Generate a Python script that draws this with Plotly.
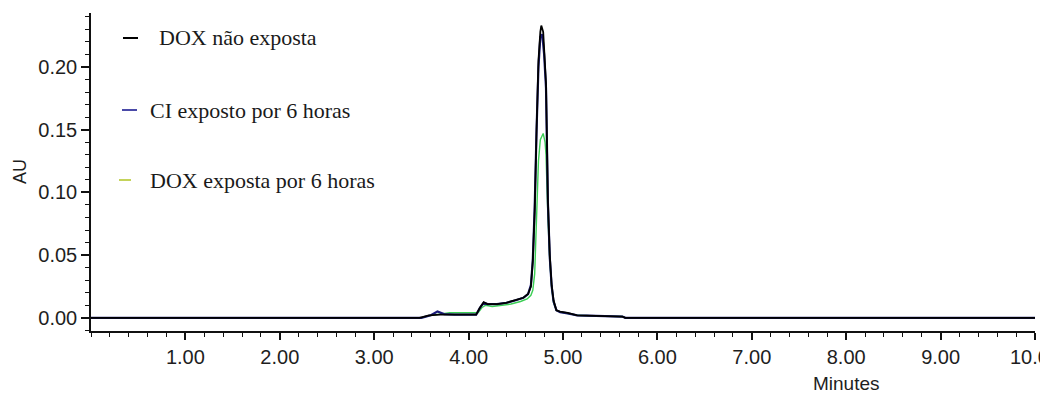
import plotly.graph_objects as go

# Chromatogram series (time in minutes, absorbance in AU)
series_names = ["DOX não exposta", "CI exposto por 6 horas", "DOX exposta por 6 horas"]
line_colors = ["#000000", "#1c1c7a", "#3ccf55"]
legend_colors = ["#000000", "#4a4aa8", "#c4d35a"]

t_dox = [0.00, 3.48, 3.58, 3.70, 3.90, 4.08, 4.12, 4.16, 4.20, 4.30, 4.40, 4.50,
         4.58, 4.63, 4.66, 4.68, 4.70, 4.72, 4.74, 4.76, 4.77, 4.79, 4.80, 4.82,
         4.84, 4.86, 4.88, 4.90, 4.93, 4.97, 5.05, 5.15, 5.35, 5.63, 5.66, 10.00]
au_dox = [0.000, 0.000, 0.002, 0.0025, 0.0025, 0.0025, 0.008, 0.0125, 0.011, 0.011,
          0.012, 0.014, 0.016, 0.019, 0.025, 0.045, 0.085, 0.150, 0.205, 0.228,
          0.233, 0.228, 0.215, 0.187, 0.094, 0.050, 0.026, 0.014, 0.006, 0.005,
          0.004, 0.002, 0.0015, 0.001, 0.000, 0.000]

t_ci = [0.00, 3.50, 3.60, 3.67, 3.74, 3.85, 4.08, 4.12, 4.16, 4.20, 4.30, 4.40,
        4.50, 4.58, 4.63, 4.66, 4.68, 4.70, 4.72, 4.74, 4.76, 4.78, 4.80, 4.82,
        4.84, 4.86, 4.88, 4.90, 4.93, 4.97, 5.05, 5.15, 5.35, 5.63, 5.66, 10.00]
au_ci = [0.000, 0.000, 0.002, 0.005, 0.003, 0.0025, 0.0025, 0.008, 0.012, 0.011,
         0.011, 0.012, 0.014, 0.016, 0.019, 0.026, 0.046, 0.088, 0.150, 0.200,
         0.224, 0.226, 0.210, 0.183, 0.092, 0.048, 0.025, 0.013, 0.006, 0.0045,
         0.0035, 0.002, 0.0015, 0.001, 0.000, 0.000]

t_dox6 = [0.00, 3.50, 3.60, 3.70, 3.80, 4.05, 4.10, 4.14, 4.18, 4.25, 4.35, 4.45,
          4.55, 4.62, 4.66, 4.68, 4.70, 4.72, 4.74, 4.76, 4.79, 4.81, 4.82, 4.84,
          4.86, 4.88, 4.90, 4.93, 4.97, 5.05, 5.15, 5.35, 5.63, 5.66, 10.00]
au_dox6 = [0.000, 0.000, 0.002, 0.003, 0.004, 0.004, 0.004, 0.008, 0.010, 0.009,
           0.010, 0.011, 0.013, 0.015, 0.018, 0.022, 0.035, 0.090, 0.125, 0.142,
           0.147, 0.140, 0.130, 0.080, 0.045, 0.024, 0.012, 0.006, 0.0045, 0.0035,
           0.002, 0.0015, 0.001, 0.000, 0.000]

x_ticks = [1, 2, 3, 4, 5, 6, 7, 8, 9, 10]
y_ticks = [0.00, 0.05, 0.10, 0.15, 0.20]

fig = go.Figure()
# drawn back to front: exposed DOX, CI, then unexposed DOX on top
for t, au, name, color, width in [
    (t_dox6, au_dox6, series_names[2], line_colors[2], 1.4),
    (t_ci, au_ci, series_names[1], line_colors[1], 2.2),
    (t_dox, au_dox, series_names[0], line_colors[0], 1.8),
]:
    fig.add_trace(go.Scatter(x=t, y=au, mode="lines", name=name,
                             line=dict(color=color, width=width),
                             showlegend=False))

axis_font = dict(family="Liberation Sans, Arial", size=20, color="#1e1e1e")

fig.update_layout(
    width=1040, height=394,
    margin=dict(l=91, r=5, t=13, b=63, autoexpand=False),
    paper_bgcolor="white", plot_bgcolor="white",
    font=axis_font,
    xaxis=dict(range=[0, 10], tickvals=x_ticks, tickformat=".2f",
               ticklabeloverflow="allow", automargin=False,
               showgrid=False, zeroline=False, showline=True,
               linecolor="#111111", linewidth=1.5,
               ticks="outside", ticklen=7, tickwidth=1.5, tickcolor="#111111",
               minor=dict(dtick=0.2, ticks="outside", ticklen=4,
                          tickwidth=1.2, tickcolor="#111111", showgrid=False),
               tickfont=axis_font),
    yaxis=dict(range=[-0.0105, 0.243], tickvals=y_ticks, tickformat=".2f",
               automargin=False,
               showgrid=False, zeroline=False, showline=True,
               linecolor="#111111", linewidth=1.5,
               ticks="outside", ticklen=8, tickwidth=1.5, tickcolor="#111111",
               minor=dict(dtick=0.01, ticks="outside", ticklen=4,
                          tickwidth=1.2, tickcolor="#111111", showgrid=False),
               tickfont=axis_font),
)

# axis titles: "AU" rotated on the left, "Minutes" right of centre
fig.add_annotation(text="AU", xref="paper", yref="paper",
                   x=(20 - 91) / 944, y=(331 - 172) / 318, textangle=-90,
                   xanchor="center", yanchor="middle", showarrow=False,
                   font=dict(family="Liberation Sans, Arial", size=18,
                             color="#1e1e1e"))
fig.add_annotation(text="Minutes", xref="paper", yref="paper",
                   x=(846 - 91) / 944, y=-(383 - 331) / 318,
                   xanchor="center", yanchor="middle", showarrow=False,
                   font=dict(family="Liberation Sans, Arial", size=19,
                             color="#1e1e1e"))

# legend: short coloured dash followed by the series name
legend_rows = [(38, 123, 138, 157), (110, 122, 137, 148), (180, 119, 131, 148)]
for (yc, d0, d1, tx), name, color in zip(legend_rows, series_names, legend_colors):
    yp = (331 - yc) / 318
    fig.add_shape(type="line", xref="paper", yref="paper",
                  x0=(d0 - 91) / 944, x1=(d1 - 91) / 944, y0=yp, y1=yp,
                  line=dict(color=color, width=2))
    fig.add_annotation(text=name, xref="paper", yref="paper",
                       x=(tx - 91) / 944, y=yp, xanchor="left", yanchor="middle",
                       showarrow=False,
                       font=dict(family="Liberation Serif, Times New Roman",
                                 size=22, color="#1a1a1a"))

fig.write_html("out.html")
